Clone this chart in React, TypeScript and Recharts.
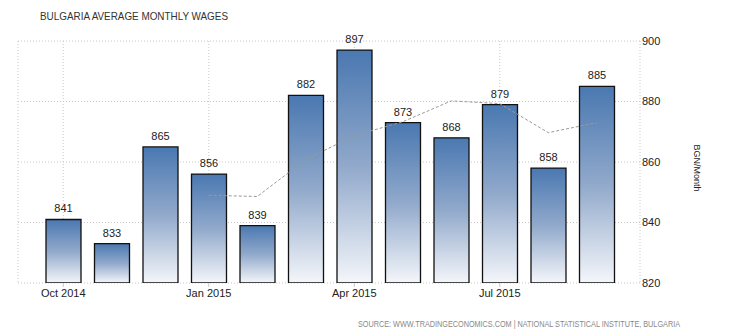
import { Bar, CartesianGrid, ComposedChart, LabelList, Line, XAxis, YAxis } from 'recharts';

const months = [
  'Oct 2014', 'Nov 2014', 'Dec 2014', 'Jan 2015', 'Feb 2015', 'Mar 2015',
  'Apr 2015', 'May 2015', 'Jun 2015', 'Jul 2015', 'Aug 2015', 'Sep 2015',
];
const wages = [841, 833, 865, 856, 839, 882, 897, 873, 868, 879, 858, 885];
const average = [null, null, null, 849, 848.6, 860.8, 868.7, 873.3, 880.2, 879.3, 869.7, 873];
const yTicks = [820, 840, 860, 880, 900];

const data = months.map((month, i) => ({ month, wage: wages[i], avg: average[i] }));

const font = '"Liberation Sans", Arial, sans-serif';

export default function App() {
  return (
    <div style={{ position: 'absolute', left: 0, top: 0, width: 741, height: 335, background: '#fff' }}>
      <ComposedChart
        width={741}
        height={335}
        data={data}
        margin={{ top: 41, right: 41, bottom: 22, left: 18 }}
        style={{ fontFamily: font }}
      >
        <defs>
          <linearGradient id="barFill" x1="0" y1="0" x2="0" y2="1">
            <stop offset="0%" stopColor="#4a78b1" />
            <stop offset="50%" stopColor="#91a9cb" />
            <stop offset="100%" stopColor="#f4f6fa" />
          </linearGradient>
        </defs>
        <CartesianGrid stroke="#c8c8c8" strokeDasharray="1 2" />
        <XAxis
          dataKey="month"
          interval={2}
          padding={{ left: 21, right: 19 }}
          axisLine={false}
          tickSize={4}
          tickMargin={2}
          height={30}
          tickLine={{ stroke: '#c8c8c8' }}
          tick={{ fill: '#222', fontSize: 11 }}
        />
        <YAxis
          orientation="right"
          domain={[820, 900]}
          ticks={yTicks}
          allowDataOverflow
          axisLine={false}
          tickLine={false}
          tickSize={0}
          tickMargin={2}
          width={60}
          tick={{ fill: '#222', fontSize: 11, textAnchor: 'start' }}
        />
        <Bar dataKey="wage" barSize={35} fill="url(#barFill)" stroke="#111" strokeWidth={1.3} isAnimationActive={false}>
          <LabelList dataKey="wage" position="top" offset={7} fill="#222" fontSize={11} />
        </Bar>
        <Line
          dataKey="avg"
          stroke="#9a9a9a"
          strokeWidth={1}
          strokeDasharray="3 2"
          dot={false}
          activeDot={false}
          isAnimationActive={false}
        />
      </ComposedChart>
      <svg width={741} height={335} style={{ position: 'absolute', left: 0, top: 0, pointerEvents: 'none', fontFamily: font }}>
        <text x={40} y={20} fontSize={11} fill="#333" textLength={188} lengthAdjust="spacingAndGlyphs">
          BULGARIA AVERAGE MONTHLY WAGES
        </text>
        <text
          x={697}
          y={168}
          fontSize={9.5}
          fill="#222"
          textAnchor="middle"
          transform="rotate(90 697 168)"
          dy="0.35em"
          textLength={47}
          lengthAdjust="spacingAndGlyphs"
        >
          BGN/Month
        </text>
        <text x={358} y={327} fontSize={8.5} fill="#888" textLength={322} lengthAdjust="spacingAndGlyphs">
          SOURCE: WWW.TRADINGECONOMICS.COM | NATIONAL STATISTICAL INSTITUTE, BULGARIA
        </text>
      </svg>
    </div>
  );
}
